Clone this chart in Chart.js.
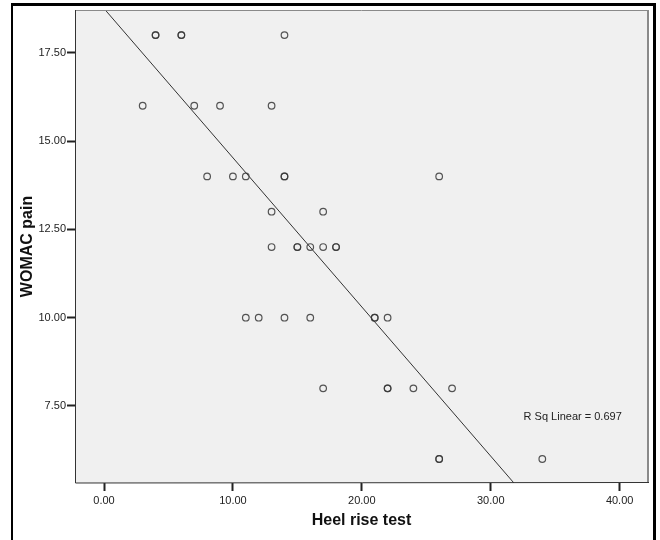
<!DOCTYPE html>
<html>
<head>
<meta charset="utf-8">
<script src="https://cdn.jsdelivr.net/npm/chart.js@4/dist/chart.umd.min.js"></script>
<style>
    body { margin: 0; background: #fff; }
    #wrap { position: relative; width: 660px; height: 540px; }
    #frame {
        position: absolute; left: 11px; top: 3px; width: 640px; height: 560px;
        border-left: 2px solid #000; border-top: 3px solid #000; border-right: 3px solid #000;
    }
    canvas { position: absolute; left: 0; top: 0; }
</style>
</head>
<body>
<div id="wrap">
    <canvas id="diagram" width="660" height="540"></canvas>
    <div id="frame"></div>
</div>
<script>
// values (bold circles = two overlapping cases)
const heelRise = [4, 4, 6, 6, 14, 3, 7, 9, 13, 8, 10, 11, 14, 14, 26, 13, 17,
    13, 15, 15, 16, 17, 18, 18, 11, 12, 14, 16, 21, 21, 22, 17, 22, 22, 24, 27, 26, 26, 34];
const womacPain = [18, 18, 18, 18, 18, 16, 16, 16, 16, 14, 14, 14, 14, 14, 14, 13, 13,
    12, 12, 12, 12, 12, 12, 12, 10, 10, 10, 10, 10, 10, 10, 8, 8, 8, 8, 8, 6, 6, 6];

// fit line end points
const fitX = [0.1, 31.8];
const fitY = [18.71, 5.32];

const xTicks = [0, 10, 20, 30, 40];
const yTicks = [7.5, 10, 12.5, 15, 17.5];
const rSqLabel = 'R Sq Linear = 0.697';

const FONT = "'Liberation Sans', Arial, sans-serif";

window.onload = init;

function init() {
    createChart();
}

const plotBackground = {
    id: 'plotBackground',
    beforeDraw(chart) {
        const { ctx, chartArea: a } = chart;
        ctx.save();
        ctx.fillStyle = '#f0f0f0';
        ctx.fillRect(a.left, a.top, a.right - a.left, a.bottom - a.top);
        ctx.restore();
    },
    afterDraw(chart) {
        const { ctx, chartArea: a, scales } = chart;
        ctx.save();
        ctx.lineWidth = 1;
        // frame round the plot
        ctx.strokeStyle = '#8a8a8a';
        ctx.beginPath();
        ctx.moveTo(a.left, a.top + 0.5);
        ctx.lineTo(a.right, a.top + 0.5);
        ctx.moveTo(a.right - 0.5, a.top);
        ctx.lineTo(a.right - 0.5, a.bottom);
        ctx.moveTo(a.right + 0.5, a.top);
        ctx.lineTo(a.right + 0.5, a.bottom);
        ctx.stroke();
        ctx.strokeStyle = '#333';
        ctx.beginPath();
        ctx.moveTo(a.left + 0.5, a.top);
        ctx.lineTo(a.left + 0.5, a.bottom);
        ctx.lineTo(a.right + 1, a.bottom - 0.5);
        ctx.stroke();
        // R squared note
        ctx.fillStyle = '#222';
        ctx.font = '11px ' + FONT;
        ctx.textBaseline = 'middle';
        ctx.textAlign = 'left';
        ctx.fillText(rSqLabel, scales.x.getPixelForValue(32.55), scales.y.getPixelForValue(7.2));
        ctx.restore();
    }
};

function createChart() {
    const ctx = document.getElementById('diagram').getContext('2d');

    new Chart(ctx, {
        type: 'scatter',
        data: {
            datasets: [
                {
                    label: 'WOMAC pain',
                    data: heelRise.map((x, i) => ({ x: x, y: womacPain[i] })),
                    pointRadius: 3.3,
                    pointBorderWidth: 1.2,
                    pointBorderColor: 'rgba(55,55,55,0.85)',
                    pointBackgroundColor: 'rgba(0,0,0,0)',
                    pointHoverRadius: 3.3
                },
                {
                    type: 'line',
                    label: 'Fit',
                    data: fitX.map((x, i) => ({ x: x, y: fitY[i] })),
                    borderColor: '#333',
                    borderWidth: 1,
                    pointRadius: 0,
                    fill: false
                }
            ]
        },
        options: {
            responsive: false,
            animation: false,
            devicePixelRatio: 1,
            layout: { padding: { left: 0, top: 10, right: 12, bottom: 0 } },
            plugins: {
                legend: { display: false },
                tooltip: { enabled: false }
            },
            scales: {
                x: {
                    type: 'linear',
                    min: -2.25,
                    max: 42.2,
                    afterFit: s => { s.height = 57; },
                    afterBuildTicks: s => { s.ticks = xTicks.map(v => ({ value: v })); },
                    border: { display: false },
                    grid: {
                        drawOnChartArea: false,
                        drawTicks: true,
                        tickLength: 8,
                        tickColor: '#222',
                        tickWidth: 2
                    },
                    ticks: {
                        color: '#222',
                        padding: 3,
                        maxRotation: 0,
                        font: { family: FONT, size: 11 },
                        callback: v => v.toFixed(2)
                    },
                    title: {
                        display: true,
                        text: 'Heel rise test',
                        color: '#111',
                        font: { family: FONT, size: 16, weight: 'bold' },
                        padding: { top: 0, bottom: 10 }
                    }
                },
                y: {
                    type: 'linear',
                    min: 5.32,
                    max: 18.71,
                    afterFit: s => { s.width = 75; },
                    afterBuildTicks: s => { s.ticks = yTicks.map(v => ({ value: v })); },
                    border: { display: false },
                    grid: {
                        drawOnChartArea: false,
                        drawTicks: true,
                        tickLength: 8,
                        tickColor: '#222',
                        tickWidth: 2
                    },
                    ticks: {
                        color: '#222',
                        padding: 1,
                        font: { family: FONT, size: 11 },
                        callback: v => v.toFixed(2)
                    },
                    title: {
                        display: true,
                        text: 'WOMAC pain',
                        color: '#111',
                        font: { family: FONT, size: 16, weight: 'bold' },
                        padding: { top: 18, bottom: 0 }
                    }
                }
            }
        },
        plugins: [plotBackground]
    });
}
</script>
</body>
</html>
